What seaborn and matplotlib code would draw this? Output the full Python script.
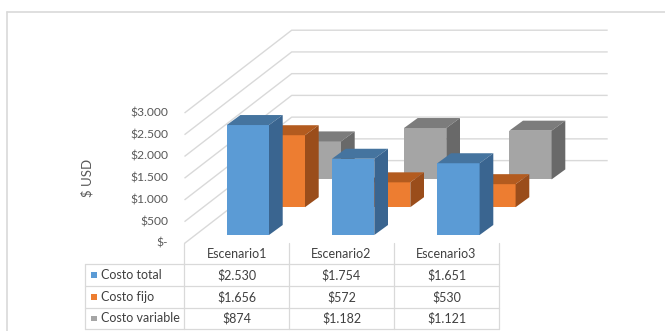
import numpy as np
import pandas as pd
import matplotlib
matplotlib.use("Agg")
import matplotlib.pyplot as plt
from matplotlib.patches import Polygon, Rectangle
from matplotlib.lines import Line2D
import seaborn as sns

# ---- data ----
escenarios = ["Escenario1", "Escenario2", "Escenario3"]
series = ["Costo total", "Costo fijo", "Costo variable"]
costo_total = [2530, 1754, 1651]
costo_fijo = [1656, 572, 530]
costo_variable = [874, 1182, 1121]
y_ticks = [0, 500, 1000, 1500, 2000, 2500, 3000]
y_label = "$ USD"

valores = [costo_total, costo_fijo, costo_variable]

# ---- style ----
front_colors = ["#5B9BD5", "#ED7D31", "#A5A5A5"]
top_colors = ["#45749F", "#B35B1F", "#7C7C7C"]
side_colors = ["#3A6590", "#9A4D1B", "#696969"]
grid_color = "#D9D9D9"
text_color = "#595959"
table_text = "#404040"

W, H = 665, 331
sns.set_theme(style="white")
plt.rcParams["font.family"] = ["Lato", "DejaVu Sans"]

fig = plt.figure(figsize=(W / 100, H / 100), dpi=100)
ax = fig.add_axes([0, 0, 1, 1])

# pixel geometry of the pseudo-3D box
cat_px = 105.3          # distance between scenarios
first_px = 247.85       # centre of the first front-row bar
zero_py = 243.4         # value 0 on the front plane
px_per_usd = 130.4 / 3000


def xd(px):
    return (px - first_px) / cat_px


def yd(py):
    return (zero_py - py) / px_per_usd


def dx(px):
    return px / cat_px


def dy(px):
    return px / px_per_usd


ax.set_xlim(xd(0), xd(W))
ax.set_ylim(yd(H), yd(0))
ax.axis("off")

# walls: gridlines run from the front plane diagonally back, then along the back wall
x_front, x_back, x_end = xd(184.5), xd(291.7), xd(607.7)
wall_rise = dy(82.8)
for v in y_ticks:
    ax.plot([x_front, x_back, x_end], [v, v + wall_rise, v + wall_rise],
            color=grid_color, lw=1.0, zorder=1, solid_capstyle="butt")


def money(v):
    if v == 0:
        return "$-"
    return "$" + f"{v:,}".replace(",", ".")


for v in y_ticks:
    ax.text(xd(168), v, money(v), ha="right", va="center",
            fontsize=8.7, color=text_color)

ax.text(xd(87), yd(178.3), y_label, rotation=90, ha="center", va="center",
        fontsize=9.5, color=text_color)

# bars: each series sits one row deeper (further right and higher)
bar_w = dx(42.3)
depth_x, depth_y = dx(13.7), dy(10.0)
row_dx, row_dy = dx(36.0), dy(27.8)
row0_dy = dy(8.4)

for k in [2, 1, 0]:
    vals = valores[k]
    shift = k * row_dx
    base = row0_dy + k * row_dy
    z = 3 + (2 - k)
    df = pd.DataFrame({"pos": np.arange(len(escenarios)) + shift, "valor": vals})
    sns.barplot(data=df, x="pos", y="valor", native_scale=True, orient="x",
                width=bar_w, bottom=base, color=front_colors[k], saturation=1,
                errorbar=None, linewidth=0, zorder=z, ax=ax)
    for i, v in enumerate(vals):
        x0 = i + shift - bar_w / 2
        x1 = x0 + bar_w
        y0, y1 = base, base + v
        top = [(x0, y1), (x1, y1), (x1 + depth_x, y1 + depth_y), (x0 + depth_x, y1 + depth_y)]
        side = [(x1, y0), (x1, y1), (x1 + depth_x, y1 + depth_y), (x1 + depth_x, y0 + depth_y)]
        ax.add_patch(Polygon(top, closed=True, facecolor=top_colors[k], edgecolor="none", zorder=z))
        ax.add_patch(Polygon(side, closed=True, facecolor=side_colors[k], edgecolor="none", zorder=z))

ax.set_xlim(xd(0), xd(W))
ax.set_ylim(yd(H), yd(0))
ax.axis("off")


# ---- data table below the plot ----
def F(px, py):
    return px / W, 1 - py / H


def hline(py, px0, px1, color=grid_color, lw=0.9):
    (a, b), (c, d) = F(px0, py), F(px1, py)
    fig.add_artist(Line2D([a, c], [b, d], color=color, lw=lw, transform=fig.transFigure))


def vline(px, py0, py1, color=grid_color, lw=0.9):
    (a, b), (c, d) = F(px, py0), F(px, py1)
    fig.add_artist(Line2D([a, c], [b, d], color=color, lw=lw, transform=fig.transFigure))


col_x = [184.3, 289.0, 394.0, 499.0]
row_y = [264.0, 286.0, 307.7, 329.3]
left_x = 85.0
header_top = 243.0

for y in row_y:
    hline(y, left_x, col_x[-1])
vline(left_x, row_y[0], row_y[-1])
for x in col_x:
    vline(x, header_top, row_y[-1])

for j, name in enumerate(escenarios):
    cx = (col_x[j] + col_x[j + 1]) / 2
    fig.text(*F(cx, 254.5), name, ha="center", va="center", fontsize=9, color=table_text)

for k, name in enumerate(series):
    cy = (row_y[k] + row_y[k + 1]) / 2
    kx, ky = F(91.2, cy + 2.8)
    fig.add_artist(Rectangle((kx, ky), 5.6 / W, 5.6 / H, facecolor=front_colors[k],
                             edgecolor="none", transform=fig.transFigure))
    fig.text(*F(100.5, cy), name, ha="left", va="center", fontsize=9, color=table_text)
    for j, v in enumerate(valores[k]):
        cx = (col_x[j] + col_x[j + 1]) / 2
        fig.text(*F(cx, cy), money(v), ha="center", va="center", fontsize=9, color=table_text)

# chart area frame
hline(11.7, 7.3, W, lw=1.2)
vline(7.3, 11.7, H, lw=1.2)

fig.savefig("out.png", dpi=100)
